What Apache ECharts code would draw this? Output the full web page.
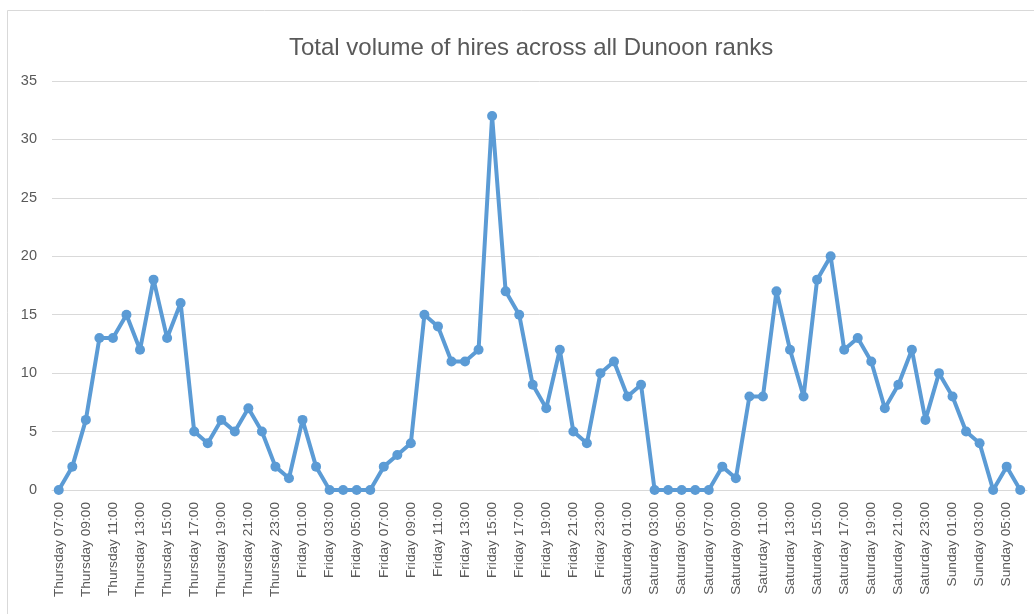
<!DOCTYPE html>
<html>
<head>
<meta charset="utf-8">
<script src="https://cdn.jsdelivr.net/npm/echarts@6/dist/echarts.min.js"></script>
<style>
  html, body { margin: 0; padding: 0; background: #ffffff; }
  #chart { width: 1034px; height: 614px; }
</style>
</head>
<body>
<div id="chart"></div>
<script>
// Hourly slots from Thursday 07:00 through Sunday 06:00
const days = ['Thursday', 'Friday', 'Saturday', 'Sunday'];
const firstHour = [7, 0, 0, 0];
const lastHour = [23, 23, 23, 6];

const categories = [];
days.forEach((d, i) => {
  for (let h = firstHour[i]; h <= lastHour[i]; h++) {
    categories.push(d + ' ' + String(h).padStart(2, '0') + ':00');
  }
});

// Hires per hour
const thursdayHires = [0, 2, 6, 13, 13, 15, 12, 18, 13, 16, 5, 4, 6, 5, 7, 5, 2];
const fridayHires = [1, 6, 2, 0, 0, 0, 0, 2, 3, 4, 15, 14, 11, 11, 12, 32, 17, 15, 9, 7, 12, 5, 4, 10];
const saturdayHires = [11, 8, 9, 0, 0, 0, 0, 0, 2, 1, 8, 8, 17, 12, 8, 18, 20, 12, 13, 11, 7, 9, 12, 6];
const sundayHires = [10, 8, 5, 4, 0, 2, 0];

const hires = [].concat(thursdayHires, fridayHires, saturdayHires, sundayHires);

const yTicks = { min: 0, max: 35, interval: 5 };

const FONT = 'Liberation Sans, Arial, sans-serif';

const chart = echarts.init(document.getElementById('chart'), null, { renderer: 'canvas' });

chart.setOption({
  animation: false,
  backgroundColor: '#ffffff',
  textStyle: { fontFamily: FONT },
  title: {
    text: 'Total volume of hires across all Dunoon ranks',
    left: 284,
    top: 31,
    textStyle: {
      color: '#595959',
      fontSize: 24,
      fontWeight: 'normal',
      fontFamily: FONT
    }
  },
  graphic: [{
    type: 'rect',
    silent: true,
    shape: { x: 7.5, y: 10.5, width: 1100, height: 700 },
    style: { fill: 'none', stroke: '#d9d9d9', lineWidth: 1 }
  }],
  grid: {
    left: 52,
    right: 7,
    top: 81,
    height: 409,
    containLabel: false
  },
  xAxis: {
    type: 'category',
    data: categories,
    boundaryGap: true,
    axisLine: { show: true, lineStyle: { color: '#d9d9d9', width: 1 } },
    axisTick: { show: false },
    axisLabel: {
      interval: 1,
      rotate: 90,
      margin: 12,
      color: '#595959',
      fontSize: 13.7,
      fontFamily: FONT
    }
  },
  yAxis: {
    type: 'value',
    min: yTicks.min,
    max: yTicks.max,
    interval: yTicks.interval,
    axisLine: { show: false },
    axisTick: { show: false },
    splitLine: { lineStyle: { color: '#d9d9d9', width: 1 } },
    axisLabel: {
      margin: 15,
      color: '#595959',
      fontSize: 14.5,
      fontFamily: FONT
    }
  },
  series: [{
    name: 'Hires',
    type: 'line',
    data: hires,
    symbol: 'circle',
    symbolSize: 10,
    showAllSymbol: true,
    lineStyle: { color: '#5b9bd5', width: 4 },
    itemStyle: { color: '#5b9bd5' }
  }]
});
</script>
</body>
</html>
